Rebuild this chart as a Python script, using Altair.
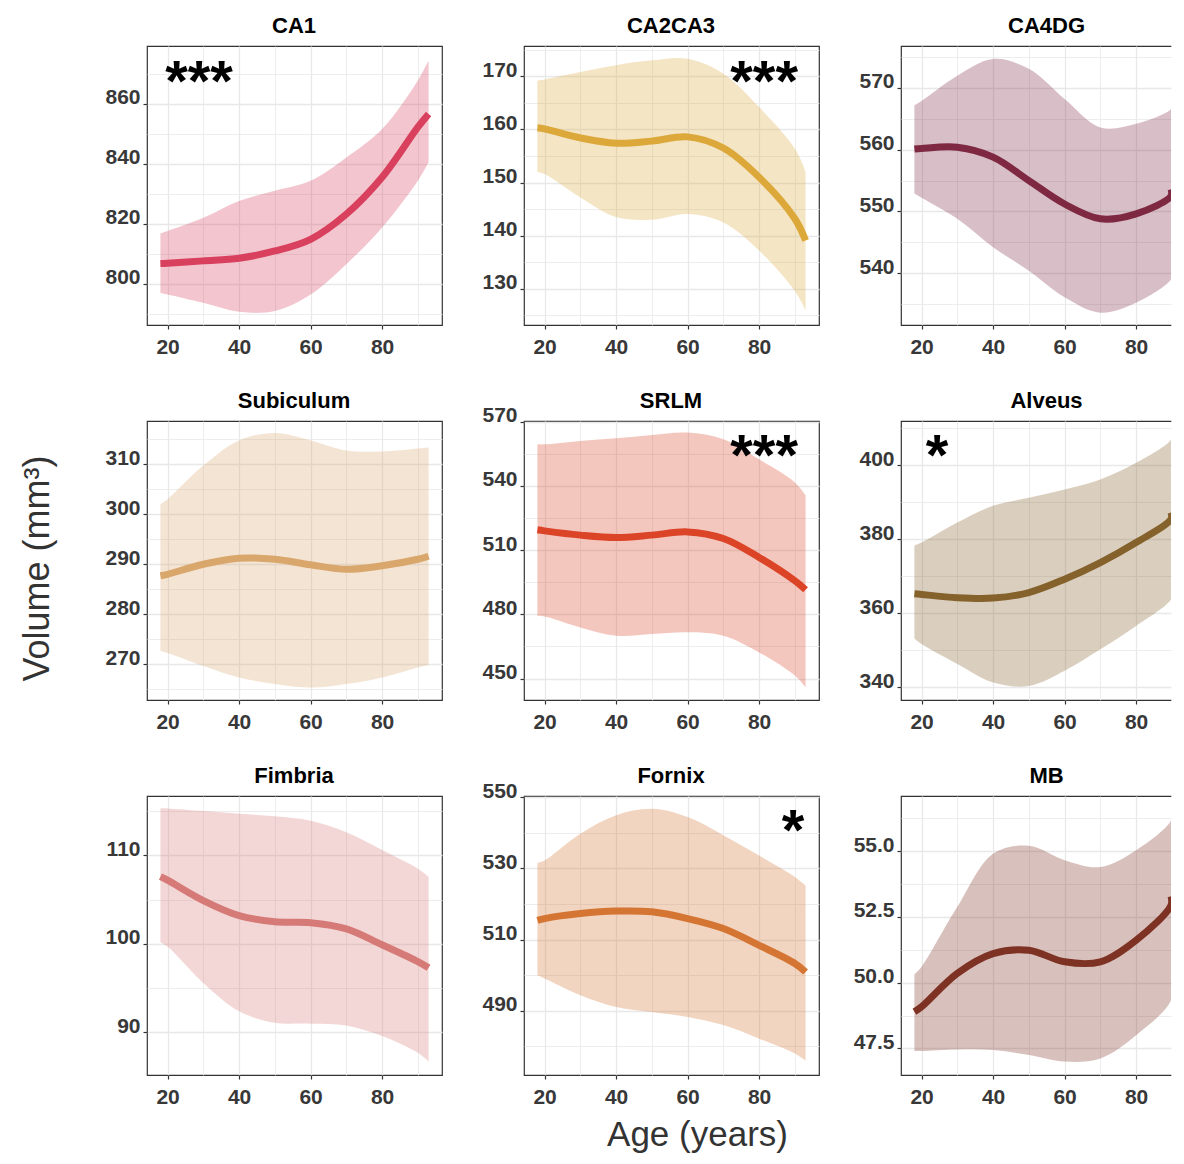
import altair as alt
import pandas as pd

FONT = "Liberation Sans"

# ---------------- data ----------------
ages = [18, 20, 30, 40, 50, 60, 70, 80, 90, 93]

regions = ["CA1", "CA2CA3", "CA4DG", "Subiculum", "SRLM", "Alveus", "Fimbria", "Fornix", "MB"]
line_colors = ["#D8405E", "#DCA83A", "#7E2941", "#D9A66C", "#DC4428", "#85612B", "#D67A77", "#D57533", "#7E3223"]

ca1_fit = [806.7, 806.8, 807.6, 808.5, 810.9, 814.8, 823.2, 835.5, 852.2, 856.6]
ca1_hi = [816.8, 817.6, 822.0, 827.6, 831.0, 834.3, 842.1, 851.6, 867.8, 874.5]
ca1_lo = [796.9, 796.4, 793.6, 790.6, 790.9, 796.4, 806.5, 818.7, 834.3, 840.5]

ca2_fit = [160.3, 160.1, 158.4, 157.4, 157.8, 158.6, 156.5, 151.0, 143.2, 139.1]
ca2_hi = [169.2, 169.4, 170.8, 172.1, 173.0, 173.3, 170.5, 164.2, 156.4, 152.0]
ca2_lo = [152.0, 151.6, 147.2, 143.5, 143.0, 144.1, 142.5, 137.2, 129.6, 126.0]

ca4_fit = [560.1, 560.2, 560.4, 558.8, 555.0, 551.2, 548.8, 549.6, 552.5, 553.6]
ca4_hi = [567.2, 567.9, 572.0, 574.7, 573.1, 568.2, 563.6, 564.2, 566.6, 567.3]
ca4_lo = [552.9, 552.2, 548.8, 544.2, 540.4, 536.1, 533.6, 535.2, 539.0, 540.1]

sub_fit = [287.7, 288.0, 290.0, 291.2, 291.0, 289.9, 289.0, 289.7, 291.0, 291.6]
sub_hi = [302.0, 303.0, 309.7, 314.7, 316.2, 314.7, 312.7, 312.5, 313.1, 313.3]
sub_lo = [272.7, 272.3, 269.7, 267.4, 266.1, 265.4, 266.1, 267.4, 269.4, 269.9]

srlm_fit = [519.5, 519.0, 517.0, 515.9, 517.0, 518.5, 515.4, 506.6, 495.7, 491.5]
srlm_hi = [559.4, 559.4, 561.0, 562.2, 563.8, 564.9, 561.8, 552.4, 541.6, 535.6]
srlm_lo = [479.3, 479.0, 473.9, 470.0, 470.8, 471.6, 470.0, 462.2, 451.4, 445.9]

alv_fit = [365.3, 365.1, 364.2, 364.1, 365.6, 369.2, 373.7, 379.1, 385.4, 387.2]
alv_hi = [378.3, 379.1, 384.5, 389.0, 391.2, 393.4, 396.1, 400.6, 406.9, 408.7]
alv_lo = [353.2, 351.7, 346.3, 341.3, 340.4, 344.5, 350.3, 356.6, 363.8, 366.0]

fim_fit = [107.6, 107.2, 104.9, 103.2, 102.5, 102.4, 101.7, 99.9, 98.0, 97.3]
fim_hi = [115.3, 115.3, 115.0, 114.7, 114.4, 113.9, 112.6, 110.6, 108.5, 107.6]
fim_lo = [100.2, 99.7, 95.6, 92.4, 91.1, 91.0, 90.8, 89.6, 87.7, 86.7]

forn_fit = [515.4, 515.9, 517.3, 518.0, 517.8, 515.9, 513.1, 508.4, 503.3, 500.9]
forn_hi = [531.5, 532.2, 539.7, 544.9, 546.7, 544.4, 539.3, 533.6, 527.6, 525.2]
forn_lo = [500.0, 499.1, 494.4, 491.1, 489.7, 488.3, 486.0, 482.2, 478.0, 476.0]

mb_fit = [48.89, 49.08, 50.35, 51.10, 51.23, 50.79, 50.79, 51.61, 52.94, 53.28]
mb_hi = [50.31, 50.60, 52.88, 54.90, 55.20, 54.65, 54.39, 55.03, 56.16, 56.54]
mb_lo = [47.40, 47.40, 47.46, 47.44, 47.25, 47.00, 47.12, 48.00, 49.33, 50.16]

fits = [ca1_fit, ca2_fit, ca4_fit, sub_fit, srlm_fit, alv_fit, fim_fit, forn_fit, mb_fit]
his = [ca1_hi, ca2_hi, ca4_hi, sub_hi, srlm_hi, alv_hi, fim_hi, forn_hi, mb_hi]
los = [ca1_lo, ca2_lo, ca4_lo, sub_lo, srlm_lo, alv_lo, fim_lo, forn_lo, mb_lo]

y_domains = [[786.2, 879.3], [123.2, 175.7], [531.6, 576.8], [262.9, 318.6], [440.0, 570.3],
             [336.6, 411.9], [85.2, 116.7], [472.0, 550.3], [46.49, 57.09]]
y_major = [[800, 820, 840, 860], [130, 140, 150, 160, 170], [540, 550, 560, 570], [270, 280, 290, 300, 310],
           [450, 480, 510, 540, 570], [340, 360, 380, 400], [90, 100, 110], [490, 510, 530, 550],
           [47.5, 50.0, 52.5, 55.0]]
y_minor = [[790, 810, 830, 850, 870], [125, 135, 145, 155, 165, 175], [535, 545, 555, 565, 575],
           [265, 275, 285, 295, 305, 315], [465, 495, 525, 555], [350, 370, 390, 410], [95, 105, 115],
           [480, 500, 520, 540], [48.75, 51.25, 53.75, 56.25]]
y_format = ["d", "d", "d", "d", "d", "d", "d", "d", ".1f"]

x_major = [20, 40, 60, 80]
x_minor = [30, 50, 70, 90]

star_region = ["CA1", "CA2CA3", "SRLM", "Alveus", "Fornix"]
star_label = ["***", "***", "***", "*", "*"]
star_age = [28.8, 81.4, 81.4, 24.3, 89.5]
star_vol = [870.2, 170.6, 558.0, 404.8, 543.1]

y_title = "Volume (mm³)"
x_title = "Age (years)"

# ---------------- tables ----------------
rows = []
for r, f, lo, hi in zip(regions, fits, los, his):
    for a, v, l, h in zip(ages, f, lo, hi):
        rows.append({"region": r, "age": a, "fit": v, "lo": l, "hi": h})
df = pd.DataFrame(rows)
stars = pd.DataFrame({"region": star_region, "label": star_label, "age": star_age, "vol": star_vol})

PX_PER_YEAR = 295 / 82.5
W_FULL = 295
W_LAST = 270   # right column is cut by the picture edge, as in the reference
H = 279


def cond(test, yes, no):
    return {"condition": {"test": test, "value": yes}, "value": no}


panels = []
for i, r in enumerate(regions):
    col = i % 3
    w = W_FULL if col < 2 else W_LAST
    xmax = 14.25 + w / PX_PER_YEAR
    xscale = alt.Scale(domain=[14.25, xmax], nice=False, zero=False, clamp=(col == 2))
    yscale = alt.Scale(domain=y_domains[i], nice=False, zero=False)
    majors = y_major[i]
    ytest = "indexof(" + str(majors) + ", datum.value) >= 0"
    xtest = "indexof(" + str(x_major) + ", datum.value) >= 0"
    xvals = [v for v in x_major + x_minor if v <= xmax]

    xaxis_kw = dict(values=xvals, labelExpr=xtest + " ? datum.label : ''",
                    tickOpacity=cond(xtest, 1, 0), gridWidth=cond(xtest, 1.3, 0.8),
                    labelOverlap=False, labelFlush=False, format="d", domain=False)
    yaxis_kw = dict(values=majors + y_minor[i], labelExpr=ytest + " ? datum.label : ''",
                    tickOpacity=cond(ytest, 1, 0), gridWidth=cond(ytest, 1.3, 0.8),
                    labelOverlap=False, labelFlush=False, format=y_format[i], domain=False)
    xt = None
    yt = None
    if r == "Subiculum":
        yt = y_title
        yaxis_kw.update(titleX=-91, titleY=147, titleAngle=270, titleBaseline="bottom", titleAlign="center",
                        titleFontSize=36, titleFontWeight="normal", titleColor="#333333", titleFont=FONT)
    if r == "Fornix":
        xt = x_title
        xaxis_kw.update(titleX=173, titleY=70, titleAngle=0, titleBaseline="alphabetic", titleAlign="center",
                        titleFontSize=35, titleFontWeight="normal", titleColor="#333333", titleFont=FONT)

    X = alt.X("age:Q", scale=xscale, axis=alt.Axis(**xaxis_kw), title=xt)

    def Yd(field):
        return alt.Y(field, scale=yscale, axis=alt.Axis(**yaxis_kw), title=yt)

    base = alt.Chart(df[df["region"] == r])
    area = base.mark_area(color=line_colors[i], opacity=0.3, interpolate="catmull-rom", clip=True).encode(
        x=X, y=Yd("lo:Q"), y2="hi:Q")
    line = base.mark_line(color=line_colors[i], strokeWidth=7, interpolate="catmull-rom", clip=True,
                          strokeCap="butt").encode(x=X, y=Yd("fit:Q"))
    layers = [area, line]
    s = stars[stars["region"] == r]
    if len(s):
        txt = alt.Chart(s).mark_text(font=FONT, fontSize=58, fontWeight="bold", color="black",
                                     align="center", baseline="middle", dy=11).encode(
            x=X, y=Yd("vol:Q"), text="label:N")
        layers.append(txt)
    inner = alt.layer(*layers)

    # panel title carried by an empty top axis so that it sits at a fixed distance above the panel
    title_x = 145 if col == 2 else w / 2 - 1
    X_top = alt.X("age:Q", scale=xscale, title=r,
                  axis=alt.Axis(orient="top", labels=False, ticks=False, grid=False, domain=False,
                                titleX=title_x, titleY=-14, titleAlign="center",
                                titleBaseline="alphabetic", titleAngle=0, titleFont=FONT,
                                titleFontSize=22, titleFontWeight="bold", titleColor="black"))
    title_layer = base.mark_line(opacity=0).encode(x=X_top, y=Yd("fit:Q"))

    props = dict(width=w, height=H)
    if col == 2:
        props["view"] = alt.ViewBackground(stroke="#333333", strokeWidth=1.2,
                                           strokeDash=[w, H, w + H])
    panels.append(alt.layer(inner, title_layer).resolve_axis(x="independent").properties(**props))

chart = alt.concat(*panels, columns=3, spacing={"row": 96, "column": 82}, bounds="flush", align="each").properties(
    padding={"left": 10, "top": 5, "right": 0, "bottom": 0}
).configure(font=FONT).configure_view(
    stroke="#333333", strokeWidth=1.2
).configure_axis(
    labelFont=FONT, labelFontSize=21, labelFontWeight="bold", labelColor="#383838",
    tickColor="#333333", tickWidth=1.2, tickSize=4, gridColor="#E8E8E8"
).configure_axisX(labelPadding=7).configure_axisY(labelPadding=3, labelBaseline="alphabetic")

chart.save("out.html", embed_options={"renderer": "svg", "actions": False})
